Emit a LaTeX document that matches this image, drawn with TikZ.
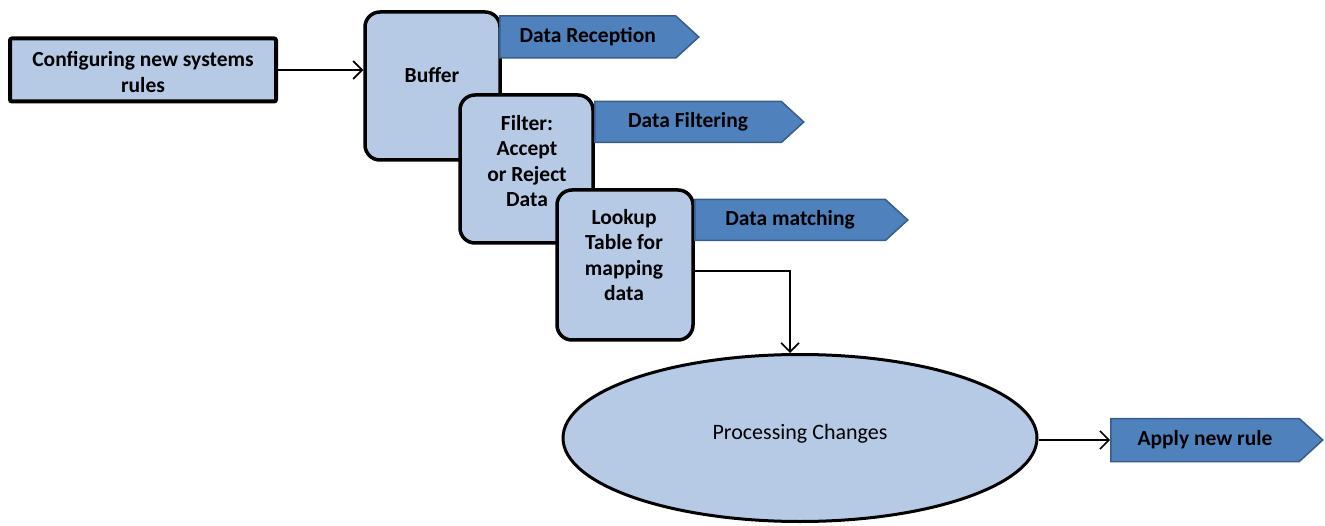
\documentclass[tikz,border=0pt]{standalone}
\usepackage{fontspec}
\setmainfont{Carlito}
\usetikzlibrary{shapes.symbols,shapes.geometric,arrows.meta}
\definecolor{lightblue}{HTML}{B6CAE6}
\definecolor{darkblue}{HTML}{4F81BD}
\definecolor{darkedge}{HTML}{385D8A}
\begin{document}
\begin{tikzpicture}[x=1pt,y=-1pt,
  box/.style={draw=black, line width=3.5pt, fill=lightblue, rounded corners=15pt, inner sep=0pt},
  sig/.style={shape=signal, signal to=east, signal pointer angle=85, fill=darkblue, draw=darkedge,
    line width=1.5pt, font=\bfseries\fontsize{21.5}{25}\selectfont, text=black, inner sep=0pt, anchor=west},
  lbl/.style={font=\bfseries\fontsize{21.5}{25.5}\selectfont, align=center, inner sep=0pt},
  conn/.style={line width=1.6pt, -{Straight Barb[length=9pt,width=18pt,line width=1.6pt]}}]
\useasboundingbox (0,0) rectangle (1325,526);

\node[box, rounded corners=2pt, line width=4pt, minimum width=266pt, minimum height=63pt] (config) at (143,70) {};
\node[lbl] (configtxt) at (143,72) {Configuring new systems\\rules};

\node[box, minimum width=135pt, minimum height=148pt] (buffer) at (432.5,86) {};
\node[lbl] (buffertxt) at (432,75) {Buffer};
\node[sig, minimum width=199pt, minimum height=42pt] (recep) at (499,37) {Data Reception};

\node[box, minimum width=133pt, minimum height=148pt] (filter) at (526.5,169) {};
\node[lbl] (filtertxt) at (527,161) {Filter:\\Accept\\or Reject\\Data};
\node[sig, minimum width=209pt, minimum height=41pt] (filtering) at (594,122) {Data Filtering};

\node[box, minimum width=136pt, minimum height=150pt] (lookup) at (625,265) {};
\node[lbl] (lookuptxt) at (624,255) {Lookup\\Table for\\mapping\\data};
\node[sig, minimum width=213pt, minimum height=41pt] (matching) at (694,220) {Data matching};

\node[ellipse, draw=black, line width=3pt, fill=lightblue, minimum width=474pt, minimum height=167pt, inner sep=0pt] (proc) at (800,438) {};
\node[font=\fontsize{22}{25}\selectfont, inner sep=0pt] (proctxt) at (800,434) {Processing Changes};

\node[sig, minimum width=212pt, minimum height=43pt] (apply) at (1110,440) {Apply new rule};

\draw[conn] (config.east) -- (buffer.west |- config.east);
\draw[conn] ([yshift=-6pt]lookup.east) -| ([xshift=-10pt]proc.north);
\draw[conn] (proc.east |- apply.west) -- (apply.west);
\end{tikzpicture}
\end{document}
